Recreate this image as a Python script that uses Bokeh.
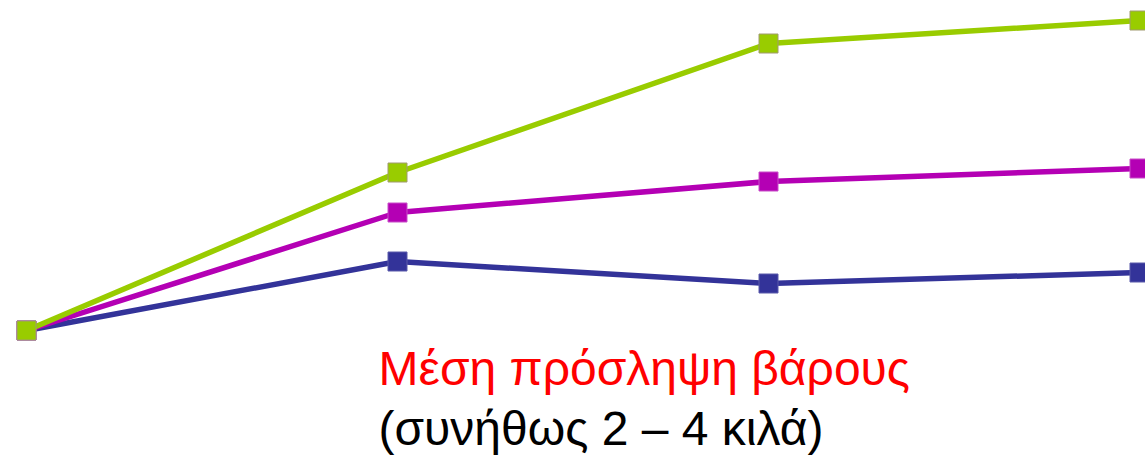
from bokeh.plotting import figure
from bokeh.models import Label, Range1d
from bokeh.embed import file_html
from bokeh.resources import INLINE

# Data (arbitrary weight units)
stages = [0, 1, 2, 3]
series_blue = [0.0, 6.9, 4.7, 5.8]
series_magenta = [0.0, 11.8, 14.9, 16.2]
series_green = [0.0, 15.8, 28.7, 31.0]
title_line1 = "Μέση πρόσληψη βάρους"
title_line2 = "(συνήθως 2 – 4 κιλά)"

W, H = 1145, 455
p = figure(width=W, height=H, output_backend="svg", toolbar_location=None,
           x_range=Range1d(-26 / 371, 3 + 6 / 371), y_range=Range1d(-12.5, 33.0),
           min_border=0, min_border_left=0, min_border_right=0,
           min_border_top=0, min_border_bottom=0)
p.axis.visible = False
p.xaxis.visible = False
p.yaxis.visible = False
p.grid.visible = False
p.outline_line_color = None
p.background_fill_color = "white"
p.border_fill_color = "white"

for ys, col, edge in [(series_blue, "#333399", "#5a5aaa"),
                      (series_magenta, "#B400B4", "#c84cc8"),
                      (series_green, "#99CC00", "#a09a70")]:
    p.line(stages, ys, line_color=col, line_width=5.5)
    p.scatter(stages, ys, marker="square", size=19, fill_color=col,
              line_color=edge, line_width=1)

p.add_layout(Label(x=378, y=87, x_units="screen", y_units="screen",
                   text=title_line1, text_color="red", text_font="Liberation Sans",
                   text_font_size="48px", text_baseline="alphabetic"))
p.add_layout(Label(x=378, y=27, x_units="screen", y_units="screen",
                   text=title_line2, text_color="black", text_font="Liberation Sans",
                   text_font_size="48px", text_baseline="alphabetic"))

open("out.html", "w").write(file_html(p, INLINE))
